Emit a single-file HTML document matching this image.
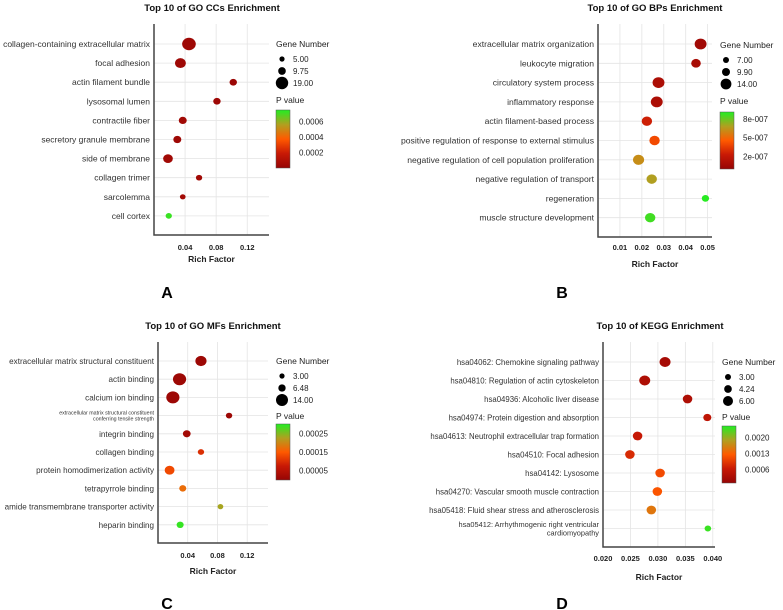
<!DOCTYPE html>
<html><head><meta charset="utf-8"><style>
body{margin:0;background:#fff;}
svg{display:block;font-family:"Liberation Sans",sans-serif;}
</style></head><body>
<svg id="c" width="783" height="610" viewBox="0 0 783 610" xmlns="http://www.w3.org/2000/svg"></svg>
<script>
// Panel A data
const aTerms=["collagen-containing extracellular matrix","focal adhesion","actin filament bundle","lysosomal lumen","contractile fiber","secretory granule membrane","side of membrane","collagen trimer","sarcolemma","cell cortex"];
const aRich=[0.045,0.034,0.102,0.081,0.037,0.030,0.018,0.058,0.037,0.019];
const aGenes=[19,14,8,8,9,9,12,6,5,6];
const aP=[0.00003,0.00003,0.00002,0.00003,0.00004,0.00003,0.00004,0.00004,0.00005,0.00072];
const aXTicks=[0.04,0.08,0.12];
const aSizeTicks=["5.00","9.75","19.00"];
const aPTicks=[0.0006,0.0004,0.0002];
const aPTickLabels=["0.0006","0.0004","0.0002"];
// Panel B data
const bTerms=["extracellular matrix organization","leukocyte migration","circulatory system process","inflammatory response","actin filament-based process","positive regulation of response to external stimulus","negative regulation of cell population proliferation","negative regulation of transport","regeneration","muscle structure development"];
const bRich=[0.0468,0.0447,0.0276,0.0268,0.0223,0.0258,0.0185,0.0245,0.049,0.0238];
const bGenes=[14,11,14,14,12,12,13,12,8,12];
const bP=[5e-8,8e-8,1e-7,1e-7,2.5e-7,4e-7,6.2e-7,6.8e-7,9e-7,8.6e-7];
const bXTicks=[0.01,0.02,0.03,0.04,0.05];
const bSizeTicks=["7.00","9.90","14.00"];
const bPTicks=[8e-7,5e-7,2e-7];
const bPTickLabels=["8e-007","5e-007","2e-007"];
// Panel C data
const cTerms=["extracellular matrix structural constituent","actin binding","calcium ion binding","extracellular matrix structural constituent|conferring tensile strength","integrin binding","collagen binding","protein homodimerization activity","tetrapyrrole binding","amide transmembrane transporter activity","heparin binding"];
const cRich=[0.0578,0.029,0.020,0.0956,0.0387,0.0578,0.0156,0.0333,0.084,0.0298];
const cGenes=[11,14,14,4,6,4,9,5,3,5];
const cP=[0.00001,0.00001,0.00001,0.00001,0.00002,0.0001,0.00013,0.00017,0.00023,0.00029];
const cXTicks=[0.04,0.08,0.12];
const cSizeTicks=["3.00","6.48","14.00"];
const cPTicks=[0.00025,0.00015,0.00005];
const cPTickLabels=["0.00025","0.00015","0.00005"];
// Panel D data
const dTerms=["hsa04062: Chemokine signaling pathway","hsa04810: Regulation of actin cytoskeleton","hsa04936: Alcoholic liver disease","hsa04974: Protein digestion and absorption","hsa04613: Neutrophil extracellular trap formation","hsa04510: Focal adhesion","hsa04142: Lysosome","hsa04270: Vascular smooth muscle contraction","hsa05418: Fluid shear stress and atherosclerosis","hsa05412: Arrhythmogenic right ventricular|cardiomyopathy"];
const dRich=[0.0313,0.0276,0.0354,0.039,0.0263,0.0249,0.0304,0.0299,0.0288,0.0391];
const dGenes=[6,6,5,4,5,5,5,5,5,3];
const dP=[0.0002,0.0003,0.0003,0.0005,0.0006,0.0008,0.0011,0.0012,0.0015,0.0024];
const dXTicks=[0.020,0.025,0.030,0.035,0.040];
const dXTickLabels=["0.020","0.025","0.030","0.035","0.040"];
const dSizeTicks=["3.00","4.24","6.00"];
const dPTicks=[0.0020,0.0013,0.0006];
const dPTickLabels=["0.0020","0.0013","0.0006"];

const svg=document.getElementById('c');
const NS="http://www.w3.org/2000/svg";
function mk(tag,attrs,parent){const e=document.createElementNS(NS,tag);for(const k in attrs)e.setAttribute(k,attrs[k]);(parent||svg).appendChild(e);return e;}
function txt(s,attrs,parent){const e=mk('text',attrs,parent);e.textContent=s;return e;}
const stops=[[0,[150,5,5]],[0.25,[200,25,5]],[0.5,[255,90,0]],[0.75,[176,160,32]],[1,[34,238,34]]];
function col(t){t=Math.max(0,Math.min(1,t));for(let i=1;i<stops.length;i++){if(t<=stops[i][0]){const a=stops[i-1],b=stops[i];const f=(t-a[0])/(b[0]-a[0]);const c=a[1].map((v,j)=>Math.round(v+(b[1][j]-v)*f));return`rgb(${c})`;}}return'rgb(34,238,34)';}

let gid=0;
function panel(o){
  const g=mk('g',{});
  
  
  const x=v=>o.x0+(v-o.xmin)/(o.xmax-o.xmin)*(o.x1-o.x0);
  const y=i=>o.yFirst+i*o.yStep;
  const t=txt(o.title,{x:o.titleX,y:o.titleY,'font-size':9.5,'font-weight':'bold','text-anchor':'middle',fill:'#111'},g);
  
  
  o.xticks.forEach((v,i)=>{
    const l=mk('line',{x1:x(v),x2:x(v),y1:o.yTop,y2:o.yBot,stroke:'#e4e4e4','stroke-width':0.8},g);
    
    
    const tl=txt(o.xtickLabels?o.xtickLabels[i]:String(v),{x:x(v),y:o.tickY,'font-size':7.5,'font-weight':'bold','text-anchor':'middle',fill:'#222'},g);
    
    
  });
  o.terms.forEach((s,i)=>{
    const l=mk('line',{x1:o.x0,x2:o.x1,y1:y(i),y2:y(i),stroke:'#e4e4e4','stroke-width':0.8},g);
    
    
    const parts=s.split('|');
    let tl;
    if(parts.length>1){
      const fs=o.wrapFs;
      tl=txt('',{x:o.x0-4,y:y(i)-fs*0.2,'font-size':fs,'text-anchor':'end',fill:'#333'},g);
      parts.forEach((p,k)=>{const ts=mk('tspan',{x:o.x0-4,dy:k?fs*1.15:0},tl);ts.textContent=p;});
    } else {
      tl=txt(s,{x:o.x0-4,y:y(i)+3,'font-size':o.labFs,'text-anchor':'end',fill:'#333'},g);
    }
    
    
  });
  const ax=mk('path',{d:`M${o.x0} ${o.yTop}V${o.yBot}H${o.x1}`,stroke:'#444','stroke-width':1.5,fill:'none'},g);
  
  
  const r=gn=>o.rmin+(gn-o.gmin)/(o.gmax-o.gmin)*(o.rmax-o.rmin);
  o.terms.forEach((s,i)=>{
    const rr=r(o.genes[i]);
    const c=mk('ellipse',{cx:x(o.rich[i]),cy:y(i),rx:rr*1.1,ry:rr,fill:col(o.p[i]/o.pmax)},g);
    
    
  });
  const xt=txt('Rich Factor',{x:(o.x0+o.x1)/2,y:o.titleXY,'font-size':8.5,'font-weight':'bold','text-anchor':'middle',fill:'#222'},g);
  
  
  const L=o.lx, gy=o.ly;
  const lt=txt('Gene Number',{x:L,y:gy+3,'font-size':8.5,fill:'#222'},g);
  
  
  o.sizeTicks.forEach((s,k)=>{
    const cy=gy+15+k*12;
    const c=mk('circle',{cx:L+6,cy:cy,r:r(parseFloat(s)),fill:'#000'},g);
    
    
    const lb=txt(s,{x:L+17,y:cy+3,'font-size':8,fill:'#222'},g);
    
    
  });
  const pt=txt('P value',{x:L,y:o.pvY+3,'font-size':8.5,fill:'#222'},g);
  
  
  const id='gr'+(gid++);
  const defs=mk('defs',{},g);
  const lg=mk('linearGradient',{id:id,x1:0,y1:1,x2:0,y2:0},defs);
  stops.forEach(s=>mk('stop',{offset:s[0],'stop-color':`rgb(${s[1]})`},lg));
  const cb=mk('rect',{x:L,y:o.cbTop,width:14,height:o.cbBot-o.cbTop,fill:`url(#${id})`,stroke:'#555','stroke-width':0.5},g);
  
  
  o.pTicks.forEach((v,k)=>{
    const yy=o.cbBot-v/o.pmax*(o.cbBot-o.cbTop);
    const lb=txt(o.pTickLabels[k],{x:L+23,y:yy+3,'font-size':8,fill:'#222'},g);
    
    
  });
  const pl=txt(o.letter,{x:o.letterX,y:o.letterY,'font-size':16,'font-weight':'bold','text-anchor':'middle',fill:'#000'},g);
  
  
}
panel({name:'panel-a-cc',title:'Top 10 of GO CCs Enrichment',titleX:212,titleY:11,terms:aTerms,rich:aRich,genes:aGenes,p:aP,
  xmin:0,xmax:0.148,x0:154,x1:269,yTop:24,yBot:235,yFirst:44,yStep:19.1,xticks:aXTicks,tickY:250,titleXY:262,labFs:8.5,wrapFs:6,
  gmin:5,gmax:19,rmin:2.6,rmax:6.2,pmax:0.00075,sizeTicks:aSizeTicks,pTicks:aPTicks,pTickLabels:aPTickLabels,
  lx:276,ly:44,pvY:100,cbTop:110,cbBot:168,letter:'A',letterX:167,letterY:298});
panel({name:'panel-b-bp',title:'Top 10 of GO BPs Enrichment',titleX:655,titleY:11,terms:bTerms,rich:bRich,genes:bGenes,p:bP,
  xmin:0,xmax:0.052,x0:598,x1:712,yTop:24,yBot:237,yFirst:44,yStep:19.3,xticks:bXTicks,tickY:250,titleXY:267,labFs:8.6,wrapFs:6,
  gmin:7,gmax:14,rmin:3,rmax:5.4,pmax:9.1e-7,sizeTicks:bSizeTicks,pTicks:bPTicks,pTickLabels:bPTickLabels,
  lx:720,ly:45,pvY:101,cbTop:112,cbBot:169,letter:'B',letterX:562,letterY:298});
panel({name:'panel-c-mf',title:'Top 10 of GO MFs Enrichment',titleX:213,titleY:329,terms:cTerms,rich:cRich,genes:cGenes,p:cP,
  xmin:0,xmax:0.148,x0:158,x1:268,yTop:342,yBot:543,yFirst:361,yStep:18.2,xticks:cXTicks,tickY:558,titleXY:574,labFs:8.1,wrapFs:5.3,
  gmin:3,gmax:14,rmin:2.6,rmax:6,pmax:0.0003,sizeTicks:cSizeTicks,pTicks:cPTicks,pTickLabels:cPTickLabels,
  lx:276,ly:361,pvY:416,cbTop:424,cbBot:480,letter:'C',letterX:167,letterY:609});
panel({name:'panel-d-kegg',title:'Top 10 of KEGG Enrichment',titleX:660,titleY:329,terms:dTerms,rich:dRich,genes:dGenes,p:dP,
  xmin:0.020,xmax:0.0404,x0:603,x1:715,yTop:342,yBot:547,yFirst:362,yStep:18.5,xticks:dXTicks,xtickLabels:dXTickLabels,tickY:561,titleXY:580,labFs:7.8,wrapFs:7.4,
  gmin:3,gmax:6,rmin:3,rmax:5,pmax:0.0025,sizeTicks:dSizeTicks,pTicks:dPTicks,pTickLabels:dPTickLabels,
  lx:722,ly:362,pvY:417,cbTop:426,cbBot:483,letter:'D',letterX:562,letterY:609});
</script>
</body></html>
